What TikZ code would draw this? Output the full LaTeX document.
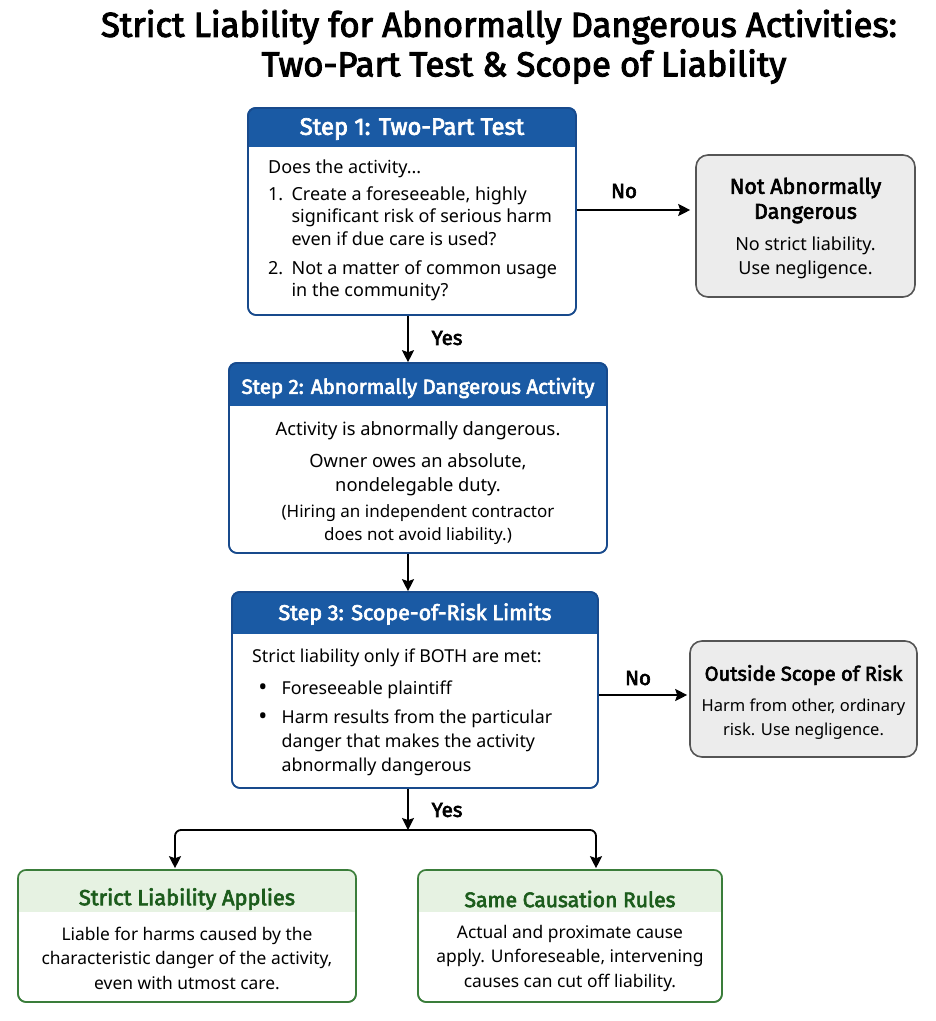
\documentclass[tikz,border=0pt]{standalone}
\usepackage{fontspec}
\setmainfont{Noto Sans}
\newfontfamily\hf{Fira Sans}[AutoFakeBold=3]
\usetikzlibrary{arrows.meta}
\definecolor{hblue}{RGB}{26,90,164}
\definecolor{bblue}{RGB}{24,74,140}
\definecolor{gfill}{RGB}{236,236,236}
\definecolor{gline}{RGB}{85,85,85}
\definecolor{grline}{RGB}{58,125,58}
\definecolor{grfill}{RGB}{230,242,226}
\definecolor{grtext}{RGB}{28,92,28}
\newcommand{\bul}{\raisebox{-0.08em}{\scalebox{1.35}{•}}}
\tikzset{
  stepbox/.style={draw=bblue, line width=1.6pt, rounded corners=8pt, inner sep=0pt},
  graybox/.style={draw=gline, fill=gfill, line width=1.6pt, rounded corners=12pt, inner sep=0pt},
  greenbox/.style={draw=grline, line width=1.6pt, rounded corners=8pt, inner sep=0pt},
  headtxt/.style={text=white, inner sep=0pt},
  greenhead/.style={text=grtext, inner sep=0pt},
  bodytxt/.style={inner sep=0pt},
  lbl/.style={font=\hf\bfseries\fontsize{20.5}{22}\selectfont, inner sep=0pt},
  arr/.style={draw=black, line width=1.8pt, -{Stealth[length=12pt,width=12pt,inset=2pt]}},
}
\begin{document}
\begin{tikzpicture}[x=1pt,y=-1pt]
\useasboundingbox (0,0) rectangle (936,1021);
\fill[white] (0,0) rectangle (936,1021);

% title
\node[font=\hf\bfseries\fontsize{34.6}{40}\selectfont, inner sep=0pt] (t1) at (499,27) {Strict Liability for Abnormally Dangerous Activities:};
\node[font=\hf\bfseries\fontsize{34.6}{40}\selectfont, inner sep=0pt] (t2) at (524,66.5) {Two-Part Test \& Scope of Liability};

% step 1
\node[stepbox, minimum width=328pt, minimum height=207pt] (s1) at (412,211.5) {};
\begin{scope}
\clip[rounded corners=8pt] (s1.south west) rectangle (s1.north east);
\fill[hblue] (s1.north west) rectangle ([yshift=-40pt]s1.north east);
\end{scope}
\node[stepbox, minimum width=328pt, minimum height=207pt] at (s1) {};
\node[headtxt, font=\hf\bfseries\fontsize{23.8}{26}\selectfont] (s1h) at (412,129) {Step 1: Two-Part Test};
\node[bodytxt, anchor=north west, align=left, font=\fontsize{18}{22.5}\selectfont] (s1b) at (268,159.5) {Does the activity...\\[4.5pt]
\makebox[1.3em][l]{1.}Create a foreseeable, highly\\
\hspace*{1.3em}significant risk of serious harm\\
\hspace*{1.3em}even if due care is used?\\[6.5pt]
\makebox[1.3em][l]{2.}Not a matter of common usage\\
\hspace*{1.3em}in the community?};

% not abnormally
\node[graybox, minimum width=219pt, minimum height=142pt] (na) at (805.5,226) {};
\node[font=\hf\bfseries\fontsize{21.4}{25}\selectfont, align=center, inner sep=0pt] (nah) at (805.5,200.5) {Not Abnormally\\Dangerous};
\node[bodytxt, align=center, font=\fontsize{18}{24}\selectfont] (nab) at (805.5,258) {No strict liability.\\Use negligence.};

% step 2
\node[stepbox, minimum width=378pt, minimum height=190pt] (s2) at (418,458) {};
\begin{scope}
\clip[rounded corners=8pt] (s2.south west) rectangle (s2.north east);
\fill[hblue] (s2.north west) rectangle ([yshift=-44pt]s2.north east);
\end{scope}
\node[stepbox, minimum width=378pt, minimum height=190pt] at (s2) {};
\node[headtxt, font=\hf\bfseries\fontsize{20.5}{24}\selectfont] (s2h) at (418,388) {Step 2: Abnormally Dangerous Activity};
\node[bodytxt, align=center, font=\fontsize{18.3}{24}\selectfont] (s2a) at (418,431) {Activity is abnormally dangerous.};
\node[bodytxt, align=center, font=\fontsize{18.3}{24}\selectfont] (s2b) at (418,475) {Owner owes an absolute,\\nondelegable duty.};
\node[bodytxt, align=center, font=\fontsize{17}{23}\selectfont] (s2c) at (418,524.5) {(Hiring an independent contractor\\does not avoid liability.)};

% step 3
\node[stepbox, minimum width=366pt, minimum height=196pt] (s3) at (415,690) {};
\begin{scope}
\clip[rounded corners=8pt] (s3.south west) rectangle (s3.north east);
\fill[hblue] (s3.north west) rectangle ([yshift=-43pt]s3.north east);
\end{scope}
\node[stepbox, minimum width=366pt, minimum height=196pt] at (s3) {};
\node[headtxt, font=\hf\bfseries\fontsize{21.5}{26}\selectfont] (s3h) at (415,614) {Step 3: Scope-of-Risk Limits};
\node[bodytxt, anchor=north west, align=left, font=\fontsize{17.8}{24}\selectfont] (s3b) at (252,648.5) {Strict liability only if BOTH are met:\\[8pt]
\makebox[1.65em][l]{\hspace*{0.35em}\bul}Foreseeable plaintiff\\[5pt]
\makebox[1.65em][l]{\hspace*{0.35em}\bul}Harm results from the particular\\
\hspace*{1.65em}danger that makes the activity\\
\hspace*{1.65em}abnormally dangerous};

% outside scope
\node[graybox, minimum width=227pt, minimum height=116pt] (os) at (803.5,699) {};
\node[font=\hf\bfseries\fontsize{20.1}{24}\selectfont, inner sep=0pt] (osh) at (803.5,675) {Outside Scope of Risk};
\node[bodytxt, align=center, font=\fontsize{16.5}{24}\selectfont] (osb) at (803.5,719.5) {Harm from other, ordinary\\risk. Use negligence.};

% bottom left
\node[greenbox, minimum width=338pt, minimum height=132pt] (bl) at (187,936) {};
\begin{scope}
\clip[rounded corners=8pt] (bl.south west) rectangle (bl.north east);
\fill[grfill] (bl.north west) rectangle ([yshift=-43pt]bl.north east);
\end{scope}
\node[greenbox, minimum width=338pt, minimum height=132pt] at (bl) {};
\node[greenhead, font=\hf\bfseries\fontsize{21.8}{24}\selectfont] (blh) at (187,899) {Strict Liability Applies};
\node[bodytxt, align=center, font=\fontsize{17.4}{24.5}\selectfont] (blb) at (187,958) {Liable for harms caused by the\\characteristic danger of the activity,\\even with utmost care.};

% bottom right
\node[greenbox, minimum width=304pt, minimum height=132pt] (br) at (570,936) {};
\begin{scope}
\clip[rounded corners=8pt] (br.south west) rectangle (br.north east);
\fill[grfill] (br.north west) rectangle ([yshift=-43pt]br.north east);
\end{scope}
\node[greenbox, minimum width=304pt, minimum height=132pt] at (br) {};
\node[greenhead, font=\hf\bfseries\fontsize{21.1}{24}\selectfont] (brh) at (570,899) {Same Causation Rules};
\node[bodytxt, align=center, font=\fontsize{17.4}{24.5}\selectfont] (brb) at (570,958) {Actual and proximate cause\\apply. Unforeseable, intervening\\causes can cut off liability.};

% connectors
\coordinate (xl) at (408,0);
\coordinate (j) at (408,830);
\coordinate (lx) at (175,0);
\coordinate (rx) at (596,0);
\draw[arr] (s1.east |- 0,210) -- ([xshift=-5pt]na.west |- 0,210);
\node[lbl] (no1) at (624,191) {No};
\draw[arr] (s1.south -| xl) -- (s2.north -| xl);
\node[lbl] (yes1) at (447,338) {Yes};
\draw[arr] (s2.south -| xl) -- (s3.north -| xl);
\draw[arr] (s3.east |- 0,695) -- ([xshift=-2pt]os.west |- 0,695);
\node[lbl] (no2) at (638,678) {No};
\draw[arr] (s3.south -| xl) -- (j);
\node[lbl] (yes2) at (447,810) {Yes};
\draw[arr, rounded corners=6pt] (j) -| ([yshift=1pt]bl.north -| lx);
\draw[arr, rounded corners=6pt] (j) -| ([yshift=1pt]br.north -| rx);
\end{tikzpicture}
\end{document}
